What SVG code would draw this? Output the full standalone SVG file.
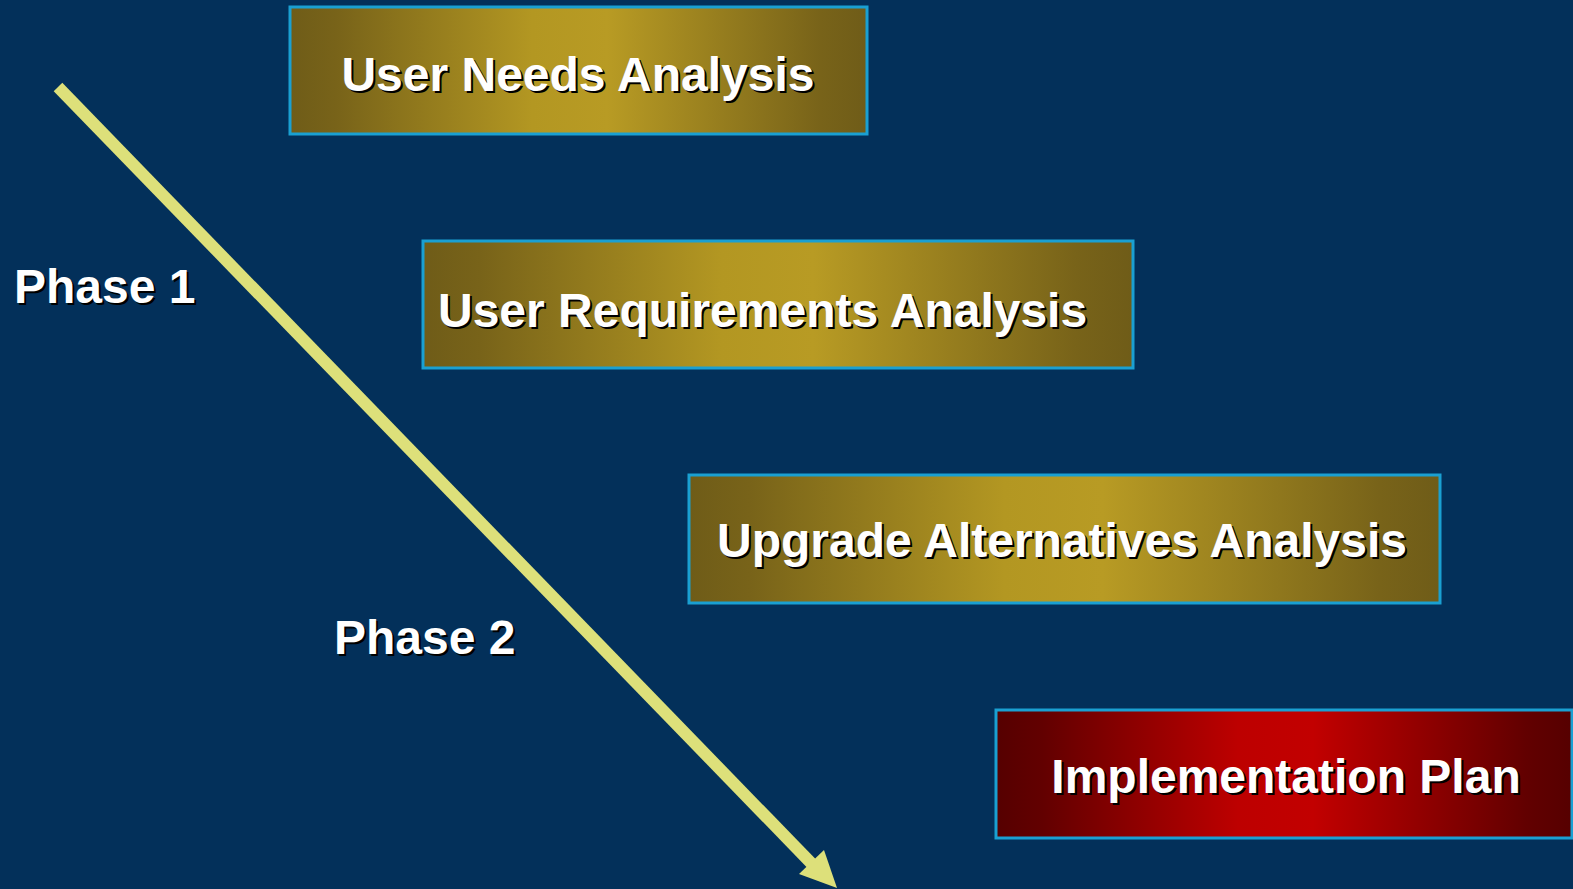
<svg xmlns="http://www.w3.org/2000/svg" width="1573" height="889" viewBox="0 0 1573 889">
  <defs>
    <linearGradient id="gold" x1="0" y1="0" x2="1" y2="0">
      <stop offset="0" stop-color="#6f5c18"/>
      <stop offset="0.08" stop-color="#786319"/>
      <stop offset="0.42" stop-color="#b39722"/>
      <stop offset="0.55" stop-color="#b89b24"/>
      <stop offset="0.92" stop-color="#786319"/>
      <stop offset="1" stop-color="#6f5c18"/>
    </linearGradient>
    <linearGradient id="red" x1="0" y1="0" x2="1" y2="0">
      <stop offset="0" stop-color="#560000"/>
      <stop offset="0.08" stop-color="#620000"/>
      <stop offset="0.42" stop-color="#bd0000"/>
      <stop offset="0.55" stop-color="#c20000"/>
      <stop offset="0.92" stop-color="#620000"/>
      <stop offset="1" stop-color="#560000"/>
    </linearGradient>
  </defs>
  <style>
    .box { stroke: #1aa0d2; stroke-width: 3; }
    .lbl { font-family: "Liberation Sans", Arial, sans-serif; font-weight: bold; font-size: 48px; fill: #ffffff; }
    .sh { font-family: "Liberation Sans", Arial, sans-serif; font-weight: bold; font-size: 48px; fill: #000000; }
  </style>
  <rect width="1573" height="889" fill="#03305a"/>

  <!-- phase arrow -->
  <g id="connectors">
    <path d="M58,87 L812,864" stroke="#dde07a" stroke-width="12" fill="none"/>
    <path d="M837,888 L824,850 L799,874 Z" fill="#dde07a"/>
  </g>

  <g id="phase1">
    <text class="sh" x="16" y="305">Phase 1</text>
    <text class="lbl" x="14" y="303">Phase 1</text>
  </g>
  <g id="phase2">
    <text class="sh" x="336" y="656">Phase 2</text>
    <text class="lbl" x="334" y="654">Phase 2</text>
  </g>

  <g id="user-needs">
    <rect class="box" x="290" y="7" width="577" height="127" fill="url(#gold)"/>
    <text class="sh" x="580" y="93" text-anchor="middle">User Needs Analysis</text>
    <text class="lbl" x="578" y="91" text-anchor="middle">User Needs Analysis</text>
  </g>

  <g id="user-requirements">
    <rect class="box" x="423" y="241" width="710" height="127" fill="url(#gold)"/>
    <text class="sh" x="440" y="329">User Requirements Analysis</text>
    <text class="lbl" x="438" y="327">User Requirements Analysis</text>
  </g>

  <g id="upgrade-alternatives">
    <rect class="box" x="689" y="475" width="751" height="128" fill="url(#gold)"/>
    <text class="sh" x="1064" y="559" text-anchor="middle">Upgrade Alternatives Analysis</text>
    <text class="lbl" x="1062" y="557" text-anchor="middle">Upgrade Alternatives Analysis</text>
  </g>

  <g id="implementation-plan">
    <rect class="box" x="996" y="710" width="576" height="128" fill="url(#red)"/>
    <text class="sh" x="1288" y="795" text-anchor="middle">Implementation Plan</text>
    <text class="lbl" x="1286" y="793" text-anchor="middle">Implementation Plan</text>
  </g>
</svg>
